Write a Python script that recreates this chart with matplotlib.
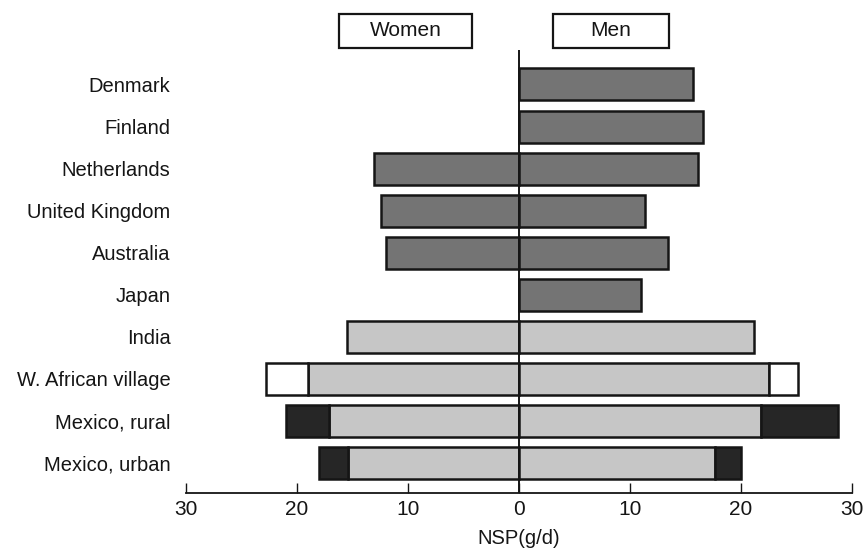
"""Butterfly chart of NSP intake (g/d) for women and men by country."""

import matplotlib

matplotlib.use("Agg")
import matplotlib.pyplot as plt
from matplotlib.patches import Rectangle

plt.rcParams["font.family"] = ["Liberation Sans", "DejaVu Sans"]

COUNTRIES = [
    "Denmark",
    "Finland",
    "Netherlands",
    "United Kingdom",
    "Australia",
    "Japan",
    "India",
    "W. African village",
    "Mexico, rural",
    "Mexico, urban",
]
# group decides the fill: industrialised diets vs. developing-country diets
GROUPS = ["west", "west", "west", "west", "west", "west", "dev", "dev", "dev", "dev"]

# main (stippled) part of each bar
WOMEN_MAIN = [0, 0, 13.0, 12.4, 12.0, 0, 15.5, 19.0, 17.1, 15.4]
MEN_MAIN = [15.7, 16.6, 16.1, 11.35, 13.4, 11.0, 21.2, 22.5, 21.8, 17.7]
# total bar length, where an extra segment is shown (None = no extra segment)
WOMEN_TOTAL = [None, None, None, None, None, None, None, 22.8, 21.0, 18.0]
MEN_TOTAL = [None, None, None, None, None, None, None, 25.1, 28.7, 20.0]
EXTRA_KIND = [None, None, None, None, None, None, None, "open", "solid", "solid"]

X_TICKS = [-30, -20, -10, 0, 10, 20, 30]

GROUP_COLORS = {"west": "#747474", "dev": "#c6c6c6"}
EXTRA_COLORS = {"open": "#ffffff", "solid": "#262626"}
INK = "#151515"


def main() -> None:
    fig = plt.figure(figsize=(8.67, 5.51), dpi=100)
    ax = fig.add_axes([0.2142, 0.1053, 0.7685, 0.804])

    height = 0.76
    for i, country in enumerate(COUNTRIES):
        color = GROUP_COLORS[GROUPS[i]]
        for sign, main_val, total in ((-1, WOMEN_MAIN[i], WOMEN_TOTAL[i]), (1, MEN_MAIN[i], MEN_TOTAL[i])):
            if main_val > 0:
                ax.barh(i, sign * main_val, height=height, color=color,
                        edgecolor=INK, linewidth=1.8, zorder=2)
            if total is not None:
                ax.barh(i, sign * (total - main_val), left=sign * main_val, height=height,
                        color=EXTRA_COLORS[EXTRA_KIND[i]], edgecolor=INK, linewidth=1.8, zorder=2)

    ax.axvline(0, color=INK, linewidth=1.4, zorder=3)

    ax.set_xlim(-30, 30)
    ax.set_ylim(9.712, -0.82)
    ax.set_xticks(X_TICKS, labels=[str(abs(t)) for t in X_TICKS])
    ax.set_yticks(range(len(COUNTRIES)), labels=COUNTRIES)
    ax.tick_params(axis="x", direction="in", length=7, width=1, colors=INK,
                   labelsize=15, pad=5)
    ax.tick_params(axis="y", length=0, pad=11, labelsize=14.5, colors=INK)
    for side in ("top", "right", "left"):
        ax.spines[side].set_visible(False)
    ax.spines["bottom"].set_linewidth(1.3)
    ax.spines["bottom"].set_color(INK)
    ax.set_xlabel("NSP(g/d)", fontsize=14.5, color=INK, labelpad=7)

    # "Women" / "Men" header boxes above the plot
    W, H = 867.0, 551.0
    for label, x0, x1 in (("Women", 339, 472), ("Men", 553, 669)):
        fig.add_artist(Rectangle((x0 / W, 1 - 48 / H), (x1 - x0) / W, 34 / H,
                                 transform=fig.transFigure, fill=False,
                                 edgecolor=INK, linewidth=1.6))
        fig.text((x0 + x1) / 2 / W, 1 - 31 / H, label, ha="center", va="center",
                 fontsize=15, color=INK)

    fig.savefig("out.png", dpi=100)
    plt.close(fig)


if __name__ == "__main__":
    main()
